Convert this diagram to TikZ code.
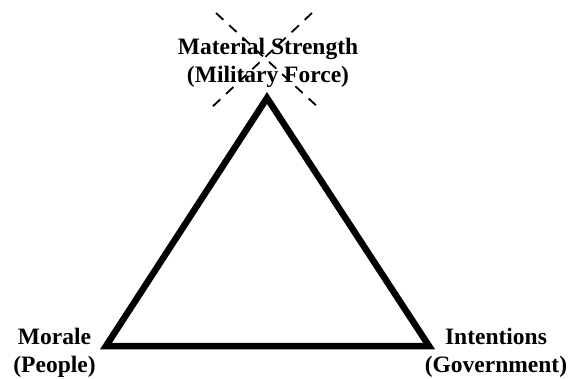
\documentclass[tikz,border=0pt]{standalone}
\usepackage{fontspec}
\setmainfont{Liberation Serif}
\usetikzlibrary{positioning}

\tikzset{
    lbl/.style={font=\bfseries\fontsize{23.5}{28}\selectfont, align=center, inner sep=0pt, anchor=base},
    side/.style={line width=6.5pt, line join=miter},
    cross/.style={line width=1.8pt, dash pattern=on 10pt off 8pt}
}

\begin{document}
\begin{tikzpicture}[x=1pt, y=-1pt]
    \useasboundingbox (0,0) rectangle (569,379);

    % corners of the triangle
    \coordinate (top) at (267,98);
    \coordinate (left) at (106,346);
    \coordinate (right) at (429,346);

    \draw[side] (top) -- (left) -- (right) -- cycle;

    \node[lbl] (force) at (268,83) {Material Strength\\(Military Force)};
    \node[lbl] (people) at (54.5,372) {Morale\\(People)};
    \node[lbl] (gov) at (496,372) {Intentions\\(Government)};

    % crossed out
    \coordinate (xa) at (216,13);
    \coordinate (xb) at (320,109);
    \coordinate (xc) at (312,13);
    \coordinate (xd) at (210,109);
    \draw[cross] (xa) -- (xb);
    \draw[cross] (xc) -- (xd);
\end{tikzpicture}
\end{document}
